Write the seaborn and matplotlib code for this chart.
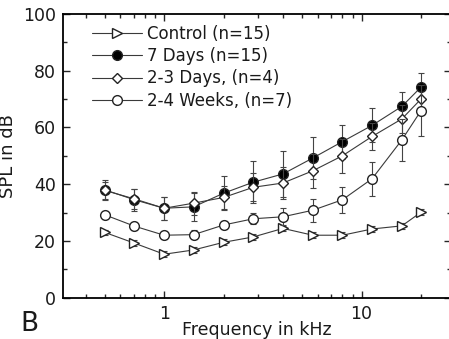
import matplotlib
matplotlib.use("Agg")
import matplotlib.pyplot as plt
import matplotlib.ticker as mticker
import seaborn as sns
import pandas as pd
import numpy as np

freqs = [0.5, 0.707, 1.0, 1.41, 2.0, 2.83, 4.0, 5.66, 8.0, 11.3, 16.0, 20.0]

control = [23.0, 19.2, 15.3, 16.8, 19.5, 21.4, 24.4, 22.0, 22.0, 24.2, 25.3, 30.1]
control_err = [1.0, 1.0, 1.0, 1.0, 1.0, 1.0, 1.0, 1.0, 1.0, 1.0, 1.0, 1.0]

days7 = [38.0, 34.5, 31.5, 32.0, 36.8, 40.7, 43.6, 49.2, 55.0, 60.7, 67.4, 74.2]
days7_err = [3.5, 3.8, 4.0, 5.0, 6.0, 7.5, 8.0, 7.3, 6.0, 6.0, 5.0, 5.0]

days23 = [37.8, 34.8, 31.5, 33.3, 35.3, 38.9, 40.4, 44.7, 50.0, 56.8, 63.0, 70.0]
days23_err = [3.0, 3.5, 4.0, 4.0, 4.0, 5.0, 5.5, 6.0, 6.0, 4.6, 5.0, 5.0]

weeks24 = [29.2, 25.2, 22.0, 22.2, 25.6, 27.8, 28.5, 30.8, 34.5, 41.9, 55.6, 65.9]
weeks24_err = [1.5, 1.5, 1.5, 1.5, 1.5, 2.0, 3.0, 4.0, 4.5, 6.0, 7.5, 9.0]

labels = ["Control (n=15)", "7 Days (n=15)", "2-3 Days, (n=4)", "2-4 Weeks, (n=7)"]

sns.set_style("white")
plt.rcParams["font.family"] = ["DejaVu Sans"]

fig = plt.figure(figsize=(4.49, 3.39), dpi=100)
ax = fig.add_axes([0.140, 0.122, 0.864, 0.837])

series = [
    (control, control_err, labels[0], ">", "white", 6.5),
    (days7, days7_err, labels[1], "o", "black", 7),
    (days23, days23_err, labels[2], "D", "white", 5.5),
    (weeks24, weeks24_err, labels[3], "o", "white", 7),
]

line_col = "#3a3a3a"
for i, (vals, errs, lab, mk, fc, ms) in enumerate(series):
    df = pd.DataFrame({"freq": freqs, "spl": vals})
    ax.errorbar(freqs, vals, yerr=errs, fmt="none", ecolor="#444444",
                elinewidth=0.8, capsize=2.5, capthick=0.8, zorder=2 + i)
    sns.lineplot(data=df, x="freq", y="spl", ax=ax, label=lab,
                 color=line_col, linewidth=0.8, marker=mk, markersize=ms,
                 markerfacecolor=fc, markeredgecolor="#222222",
                 markeredgewidth=1.0, zorder=3 + i)

ax.set_xscale("log")
ax.set_xlim(0.307, 28.3)
ax.set_ylim(0, 100)
ax.xaxis.set_major_locator(mticker.FixedLocator([1, 10]))
ax.xaxis.set_major_formatter(mticker.FixedFormatter(["1", "10"]))
ax.xaxis.set_minor_locator(mticker.LogLocator(base=10, subs=np.arange(2, 10)))
ax.xaxis.set_minor_formatter(mticker.NullFormatter())
ax.yaxis.set_major_locator(mticker.MultipleLocator(20))
ax.yaxis.set_minor_locator(mticker.MultipleLocator(10))

ax.tick_params(which="both", direction="in", top=True, right=True,
               bottom=True, left=True, labelsize=12.5, width=1.0,
               labelcolor="#1a1a1a")
ax.tick_params(which="major", length=5, pad=5)
ax.tick_params(which="minor", length=3)
for s in ax.spines.values():
    s.set_linewidth(1.3)
    s.set_color("black")

ax.set_xlabel("Frequency in kHz", fontsize=12.5, labelpad=-1, color="#1a1a1a")
ax.set_ylabel("SPL in dB", fontsize=13, labelpad=4, color="#1a1a1a")

leg = ax.legend(loc="upper left", bbox_to_anchor=(0.075, 0.962), frameon=False,
                fontsize=12, handlelength=3.0, handletextpad=0.3,
                labelspacing=0.26, borderpad=0, borderaxespad=0,
                labelcolor="#1a1a1a")

fig.text(0.045, 0.025, "B", fontsize=19, color="#1a1a1a")

fig.savefig("out.png", dpi=100)
